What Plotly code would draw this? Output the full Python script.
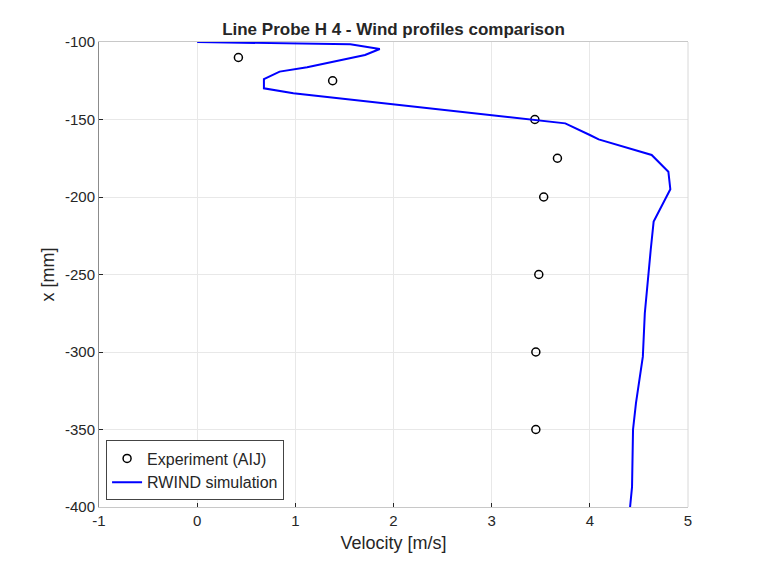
import plotly.graph_objects as go

# experiment (AIJ) points
exp_vel = [0.42, 1.38, 3.44, 3.67, 3.53, 3.48, 3.45, 3.45]
exp_x = [-110, -125, -150, -175, -200, -250, -300, -350]

# RWIND simulation line probe
sim_vel = [0.0, 1.56, 1.86, 1.71, 1.12, 0.84, 0.68, 0.68, 0.98, 1.97, 3.09,
           3.44, 3.75, 4.00, 4.09, 4.63, 4.80, 4.82, 4.65, 4.62, 4.60, 4.56,
           4.54, 4.47, 4.44, 4.43, 4.41]
sim_x = [-100, -101.5, -104.5, -108.4, -116.3, -119.1, -123.9, -129.9, -133.1,
         -140.2, -148.2, -150.3, -152.5, -160, -162.8, -172.9, -183.7, -195,
         -215.9, -234.2, -249.2, -275, -303, -333, -350, -387, -400]

xticks = [-1, 0, 1, 2, 3, 4, 5]
yticks = [-400, -350, -300, -250, -200, -150, -100]

font = "Liberation Sans, Arial, sans-serif"
dark = "#262626"

fig = go.Figure()
fig.add_trace(go.Scatter(
    x=exp_vel, y=exp_x, mode="markers", name="Experiment (AIJ)",
    marker=dict(symbol="circle-open", size=8, color="black",
                line=dict(width=1.5, color="black")),
))
fig.add_trace(go.Scatter(
    x=sim_vel, y=sim_x, mode="lines", name="RWIND simulation",
    line=dict(color="#0000ff", width=2),
))

fig.update_layout(
    width=760, height=570,
    paper_bgcolor="white", plot_bgcolor="white",
    margin=dict(l=91, r=80, t=34, b=71),
    font=dict(family=font, size=15, color=dark),
    title=dict(text="<b>Line Probe H 4 - Wind profiles comparison</b>",
               x=0.5, xref="paper", xanchor="center",
               y=0.963, yanchor="middle",
               font=dict(size=17, color=dark)),
    showlegend=True,
    legend=dict(x=0.012, y=0.014, xanchor="left", yanchor="bottom",
                bgcolor="white", bordercolor="#444444", borderwidth=1,
                font=dict(size=16, color=dark),
                tracegroupgap=0, itemwidth=30),
)
fig.update_xaxes(
    range=[-1, 5], tickvals=xticks, ticktext=[str(v) for v in xticks],
    showgrid=True, gridcolor="#e8e8e8",
    zeroline=False, showline=True, linecolor="#c8c8c8", linewidth=1,
    mirror=True, ticks="inside", ticklen=4, tickcolor=dark,
    tickfont=dict(size=15),
    title=dict(text="Velocity [m/s]", standoff=8),
)
fig.update_yaxes(
    range=[-400, -100], tickvals=yticks, ticktext=[str(v) for v in yticks],
    showgrid=True, gridcolor="#e8e8e8",
    zeroline=False, showline=True, linecolor="#8c8c8c", linewidth=1,
    ticks="inside", ticklen=4, tickcolor=dark,
    tickfont=dict(size=15),
    title=dict(text="x [mm]", standoff=5),
)
fig.add_shape(type="line", xref="paper", yref="paper", x0=1, x1=1, y0=0, y1=1,
              line=dict(color="#d8d8d8", width=1))

fig.write_html("out.html")
